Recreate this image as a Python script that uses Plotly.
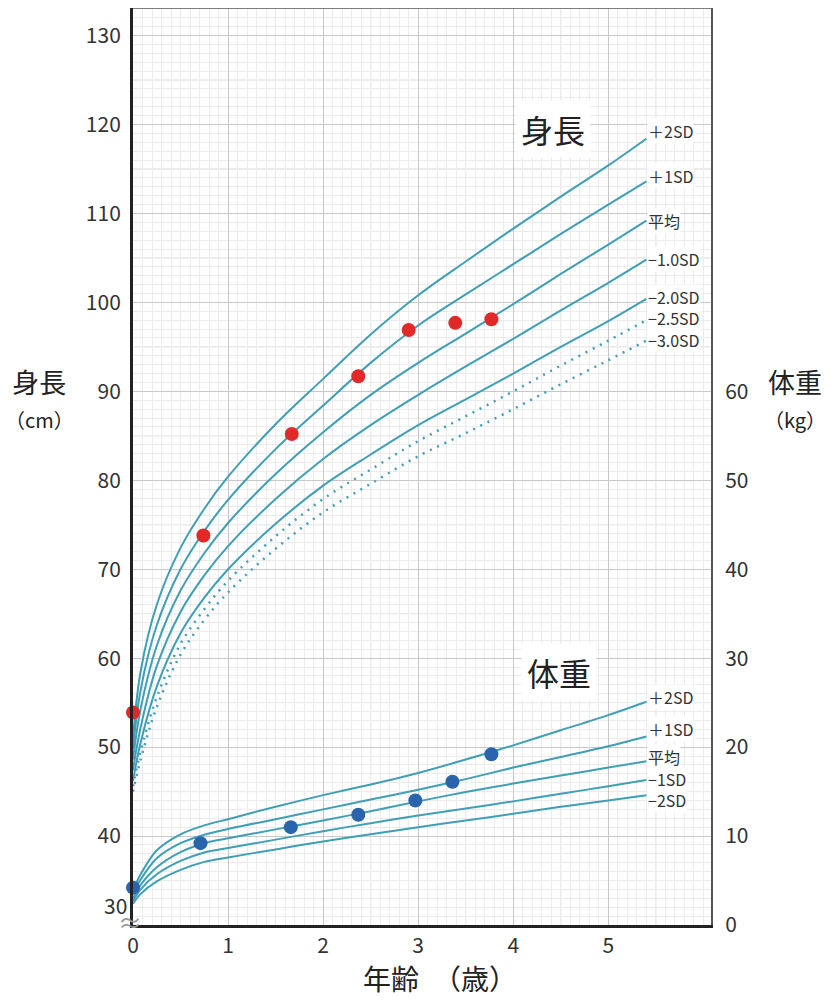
import plotly.graph_objects as go

# ---- data: standard growth curves (boys) ----
ages = [0, 0.08, 0.25, 0.5, 0.75, 1.0, 1.5, 2.0, 2.5, 3.0, 3.5, 4.0, 4.5, 5.0, 5.4]

height_p2 = [51.0, 58.5, 66.0, 72.4, 76.8, 80.4, 86.3, 91.4, 96.4, 100.8, 104.6, 108.3, 111.9, 115.4, 118.4]
height_p1 = [49.8, 56.4, 63.7, 70.0, 74.3, 77.8, 83.5, 88.4, 93.2, 97.4, 100.9, 104.3, 107.7, 111.0, 113.6]
height_mean = [48.6, 54.3, 61.4, 67.6, 71.8, 75.2, 80.7, 85.4, 89.6, 93.2, 96.5, 99.8, 103.2, 106.5, 109.2]
height_m1 = [47.4, 52.2, 59.1, 65.2, 69.3, 72.6, 77.9, 82.4, 86.2, 89.6, 92.8, 95.9, 99.1, 102.2, 104.8]
height_m2 = [46.2, 50.5, 56.8, 62.8, 66.8, 70.0, 75.1, 79.4, 82.9, 86.2, 89.1, 92.0, 95.0, 97.9, 100.4]
height_m25 = [45.6, 49.5, 55.6, 61.6, 65.5, 68.7, 73.7, 77.9, 81.2, 84.4, 87.2, 90.0, 92.9, 95.7, 98.0]
height_m3 = [45.0, 48.6, 54.5, 60.4, 64.3, 67.4, 72.3, 76.4, 79.6, 82.7, 85.3, 88.0, 90.8, 93.5, 95.7]

weight_p2 = [3.9, 5.7, 8.4, 10.2, 11.2, 11.9, 13.3, 14.6, 15.8, 17.1, 18.6, 20.2, 21.9, 23.6, 25.1]
weight_p1 = [3.5, 5.1, 7.5, 9.2, 10.15, 10.8, 11.9, 13.0, 14.1, 15.2, 16.4, 17.7, 18.9, 20.1, 21.2]
weight_mean = [3.0, 4.5, 6.5, 8.2, 9.2, 9.75, 10.75, 11.75, 12.8, 13.9, 14.95, 15.9, 16.8, 17.7, 18.4]
weight_m1 = [2.7, 4.0, 5.7, 7.2, 8.15, 8.65, 9.6, 10.55, 11.45, 12.3, 13.1, 13.9, 14.75, 15.6, 16.3]
weight_m2 = [2.4, 3.5, 4.9, 6.2, 7.1, 7.6, 8.5, 9.4, 10.2, 11.0, 11.75, 12.5, 13.3, 14.0, 14.6]

height_curves = [height_p2, height_p1, height_mean, height_m1, height_m2, height_m25, height_m3]
height_labels = ['＋2SD', '＋1SD', '平均', '−1.0SD', '−2.0SD', '−2.5SD', '−3.0SD']
height_dotted = [False, False, False, False, False, True, True]

weight_curves = [weight_p2, weight_p1, weight_mean, weight_m1, weight_m2]
weight_labels = ['＋2SD', '＋1SD', '平均', '−1SD', '−2SD']

# ---- data: the child's measurements ----
meas_age_h = [0, 0.74, 1.67, 2.37, 2.90, 3.39, 3.77]
meas_height = [53.9, 73.8, 85.2, 91.7, 96.9, 97.7, 98.1]
meas_age_w = [0, 0.71, 1.66, 2.37, 2.97, 3.36, 3.77]
meas_weight = [4.2, 9.2, 11.0, 12.4, 14.0, 16.1, 19.2]

x_ticks = [0, 1, 2, 3, 4, 5]
y_ticks = [40, 50, 60, 70, 80, 90, 100, 110, 120, 130]
y2_ticks = [0, 10, 20, 30, 40, 50, 60]

#label nudges (px) so end labels sit like in the original
height_label_shift = [8, 5, 0, 1, 2, 2, 1]
weight_label_shift = [5, 7, 4, 1, -5]

LINE = '#3f9fb6'
FONT = 'Liberation Sans Narrow, Noto Sans CJK JP, sans-serif'
CJK = 'Noto Sans CJK JP'
X_MAX = 6.08
Y_MIN, Y_MAX = 30, 133.1

fig = go.Figure()

#height curves
for vals, dotted in zip(height_curves, height_dotted):
    fig.add_trace(go.Scatter(x=ages, y=vals, mode='lines',
                             line=dict(color=LINE, width=2 if not dotted else 2.5,
                                       shape='spline', smoothing=1.0,
                                       dash='2px,6px' if dotted else 'solid'),
                             hoverinfo='skip', showlegend=False))
#weight curves (right axis)
for vals in weight_curves:
    fig.add_trace(go.Scatter(x=ages, y=vals, mode='lines',
                             line=dict(color=LINE, width=2, shape='spline', smoothing=0.8),
                             yaxis='y2', hoverinfo='skip', showlegend=False))

fig.add_trace(go.Scatter(x=meas_age_h, y=meas_height, mode='markers', cliponaxis=False,
                         marker=dict(color='#e02a2a', size=14), showlegend=False))
fig.add_trace(go.Scatter(x=meas_age_w, y=meas_weight, mode='markers', yaxis='y2', cliponaxis=False,
                         marker=dict(color='#2a64ad', size=14), showlegend=False))

#medium grid lines (every 5 cm / half year)
shapes = []
for v in range(35, 131, 10):
    shapes.append(dict(type='line', xref='paper', x0=0, x1=1, yref='y', y0=v, y1=v,
                       line=dict(color='#d8d8d8', width=1), layer='below'))
for v in [0.5, 1.5, 2.5, 3.5, 4.5, 5.5]:
    shapes.append(dict(type='line', yref='paper', y0=0, y1=1, xref='x', x0=v, x1=v,
                       line=dict(color='#d8d8d8', width=1), layer='below'))
#thin top border
shapes.append(dict(type='line', xref='paper', yref='paper', x0=0, x1=1, y0=1, y1=1,
                   line=dict(color='#555', width=1.5)))

annotations = []
#curve end labels
last = len(ages) - 1
for vals, lab, sh in zip(height_curves, height_labels, height_label_shift):
    annotations.append(dict(x=ages[last], y=vals[last], xref='x', yref='y', text=lab,
                            showarrow=False, xanchor='left', xshift=1, yshift=sh, borderpad=0,
                            bgcolor='white', font=dict(family=FONT, size=16, color='#333')))
for vals, lab, sh in zip(weight_curves, weight_labels, weight_label_shift):
    annotations.append(dict(x=ages[last], y=vals[last], xref='x', yref='y2', text=lab,
                            showarrow=False, xanchor='left', xshift=1, yshift=sh, borderpad=0,
                            bgcolor='white', font=dict(family=FONT, size=16, color='#333')))
#titles in the plot
annotations.append(dict(x=4.42, y=119.5, xref='x', yref='y', text='身長', showarrow=False,
                        bgcolor='white', borderpad=5, font=dict(family=CJK, size=32, color='#222')))
annotations.append(dict(x=4.48, y=58.4, xref='x', yref='y', text='体重', showarrow=False,
                        bgcolor='white', borderpad=5, font=dict(family=CJK, size=32, color='#222')))
#axis titles
annotations.append(dict(x=-0.162, y=0.575, xref='paper', yref='paper', showarrow=False,
                        xanchor='center', yanchor='middle',
                        text='身長<br><span style="font-size:20px">（cm）</span>',
                        font=dict(family=CJK, size=27, color='#222')))
annotations.append(dict(x=1.145, y=0.575, xref='paper', yref='paper', showarrow=False,
                        xanchor='center', yanchor='middle',
                        text='体重<br><span style="font-size:20px">（kg）</span>',
                        font=dict(family=CJK, size=27, color='#222')))
annotations.append(dict(x=0.531, y=-0.058, xref='paper', yref='paper', showarrow=False,
                        text='年齢　（歳）', xanchor='center', yanchor='middle',
                        font=dict(family=CJK, size=28, color='#222')))
#bottom label on left axis sits above the break mark
annotations.append(dict(x=0, y=32.3, xref='paper', yref='y', text='30', showarrow=False,
                        xanchor='right', xshift=-4, font=dict(family=FONT, size=21, color='#333')))
annotations.append(dict(x=0, y=30.4, xref='paper', yref='y', text='≈', showarrow=False,
                        xanchor='center', xshift=-3, font=dict(family=FONT, size=24, color='#999')))

fig.update_layout(
    width=827, height=992,
    margin=dict(l=125, r=124, t=0, b=75),
    paper_bgcolor='white', plot_bgcolor='white',
    shapes=shapes, annotations=annotations,
    xaxis=dict(range=[0, X_MAX], tickvals=x_ticks, showgrid=True, gridcolor='#c8c8c8', gridwidth=1,
               minor=dict(dtick=0.1, tick0=0, showgrid=True, gridcolor='#ececec', gridwidth=1),
               zeroline=False, showline=True, linecolor='#222', linewidth=3,
               ticks='', tickfont=dict(family=FONT, size=21, color='#333')),
    yaxis=dict(range=[Y_MIN, Y_MAX], tickvals=y_ticks, showgrid=True, gridcolor='#c8c8c8', gridwidth=1,
               minor=dict(dtick=1, tick0=0, showgrid=True, gridcolor='#ececec', gridwidth=1),
               zeroline=False, showline=True, linecolor='#222', linewidth=3,
               ticks='', ticklabelstandoff=5, tickfont=dict(family=FONT, size=21, color='#333')),
    yaxis2=dict(range=[Y_MIN - 30, Y_MAX - 30], tickvals=y2_ticks, overlaying='y', side='right',
                showgrid=False, zeroline=False, showline=True, linecolor='#555', linewidth=2,
                ticks='', ticklabelstandoff=8, tickfont=dict(family=FONT, size=21, color='#333')),
)

fig.write_html("out.html")
